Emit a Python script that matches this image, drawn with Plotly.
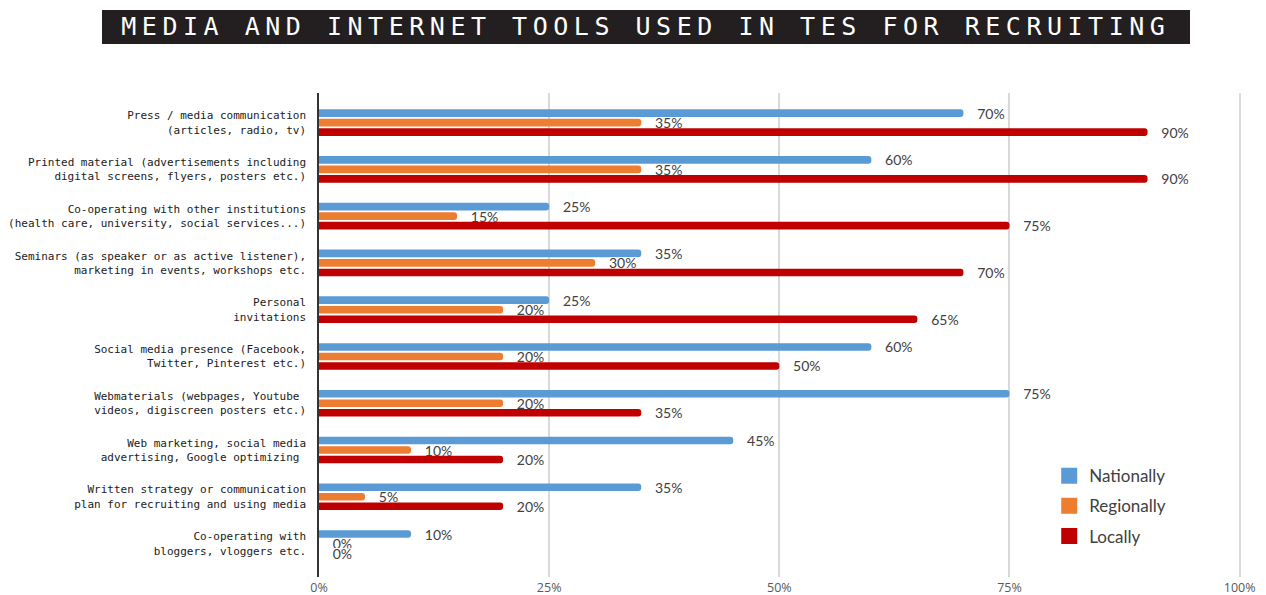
import plotly.graph_objects as go

# Recruiting channels (two-line labels, top to bottom)
categories = [
    "Press / media communication<br>(articles, radio, tv)",
    "Printed material (advertisements including<br>digital screens, flyers, posters etc.)",
    "Co-operating with other institutions<br>(health care, university, social services...)",
    "Seminars (as speaker or as active listener),<br>marketing in events, workshops etc.",
    "Personal<br>invitations",
    "Social media presence (Facebook,<br>Twitter, Pinterest etc.)",
    "Webmaterials (webpages, Youtube\u00a0<br>videos, digiscreen posters etc.)",
    "Web marketing, social media<br>advertising, Google optimizing\u00a0",
    "Written strategy or communication<br>plan for recruiting and using media",
    "Co-operating with<br>bloggers, vloggers etc.",
]

# Share of TES units using each channel, in percent
nationally = [70, 60, 25, 35, 25, 60, 75, 45, 35, 10]
regionally = [35, 35, 15, 30, 20, 20, 20, 10, 5, 0]
locally = [90, 90, 75, 70, 65, 50, 35, 20, 20, 0]

series_names = ["Nationally", "Regionally", "Locally"]
series_values = [nationally, regionally, locally]
series_colors = ["#5B9BD5", "#ED7D31", "#C00000"]

tick_values = [0, 25, 50, 75, 100]
tick_labels = ["0%", "25%", "50%", "75%", "100%"]

title_text = "MEDIA AND INTERNET TOOLS USED IN TES FOR RECRUITING"

halo = ("white 1px 0px 0px, white -1px 0px 0px, white 0px 1px 0px, white 0px -1px 0px, "
        "white 1px 1px 0px, white -1px -1px 0px, white 1px -1px 0px, white -1px 1px 0px")

fig = go.Figure()

for name, vals, color in zip(series_names, series_values, series_colors):
    fig.add_trace(go.Bar(
        name=name,
        x=vals,
        y=categories,
        orientation="h",
        marker=dict(color=color, line=dict(width=0), cornerradius=4),
        text=[f"{v}%" for v in vals],
        texttemplate="\u00a0\u00a0\u00a0%{text}",
        textposition="outside",
        constraintext="none",
        cliponaxis=False,
        textfont=dict(family="Lato", size=14, color="#404040", shadow=halo),
        showlegend=False,
        hoverinfo="skip",
    ))

# Legend entries with larger square swatches
for i, (name, color) in enumerate(zip(series_names, series_colors)):
    fig.add_trace(go.Scatter(
        name=name,
        x=[None],
        y=[None],
        mode="markers",
        marker=dict(symbol="square", size=16, color=color, line=dict(width=0)),
        legendgroup=f"g{i}",
        showlegend=True,
    ))

fig.update_layout(
    width=1266,
    height=595,
    margin=dict(l=319, r=25, t=93, b=18, autoexpand=False),
    paper_bgcolor="white",
    plot_bgcolor="white",
    barmode="group",
    bargap=0.39,
    bargroupgap=0.19,
    showlegend=True,
    legend=dict(
        x=0.792, y=0.2455, xanchor="left", yanchor="top",
        font=dict(family="Lato", size=17, color="#404040"),
        traceorder="grouped",
        tracegroupgap=5,
        bgcolor="rgba(0,0,0,0)",
    ),
    xaxis=dict(
        range=[0, 100.15],
        tickvals=tick_values,
        ticktext=tick_labels,
        showgrid=True,
        gridcolor="#D9D9D9",
        gridwidth=1.5,
        zeroline=False,
        showline=False,
        ticks="",
        tickfont=dict(family="Open Sans", size=12.5, color="#595959"),
        ticklabelstandoff=1,
        automargin=False,
        fixedrange=True,
    ),
    yaxis=dict(
        categoryorder="array",
        categoryarray=categories,
        range=[9.716, -0.635],
        showgrid=False,
        zeroline=False,
        showline=True,
        linecolor="#333333",
        linewidth=1.5,
        ticks="",
        tickfont=dict(family="DejaVu Sans Mono", size=11, color="#1a1a1a"),
        ticklabelstandoff=9,
        automargin=False,
        fixedrange=True,
    ),
    shapes=[dict(
        type="rect", xref="paper", yref="paper",
        x0=(102 - 319) / 922, x1=(1190 - 319) / 922,
        y0=(577 - 44) / 484, y1=(577 - 10) / 484,
        fillcolor="#231F20", line=dict(width=0), layer="above",
    )],
    annotations=[dict(
        text=title_text,
        xref="paper", yref="paper",
        x=(646 - 319) / 922, y=(577 - 27) / 484,
        xanchor="center", yanchor="middle",
        xshift=0,
        showarrow=False,
        font=dict(family="DejaVu Sans Mono", size=25, color="white"),
    )],
)

spacing_js = (
    "document.querySelectorAll('.annotation-text').forEach(function(t){"
    "t.style.letterSpacing='5.52px';});"
)

fig.write_html("out.html", post_script=spacing_js, config={"displayModeBar": False})
